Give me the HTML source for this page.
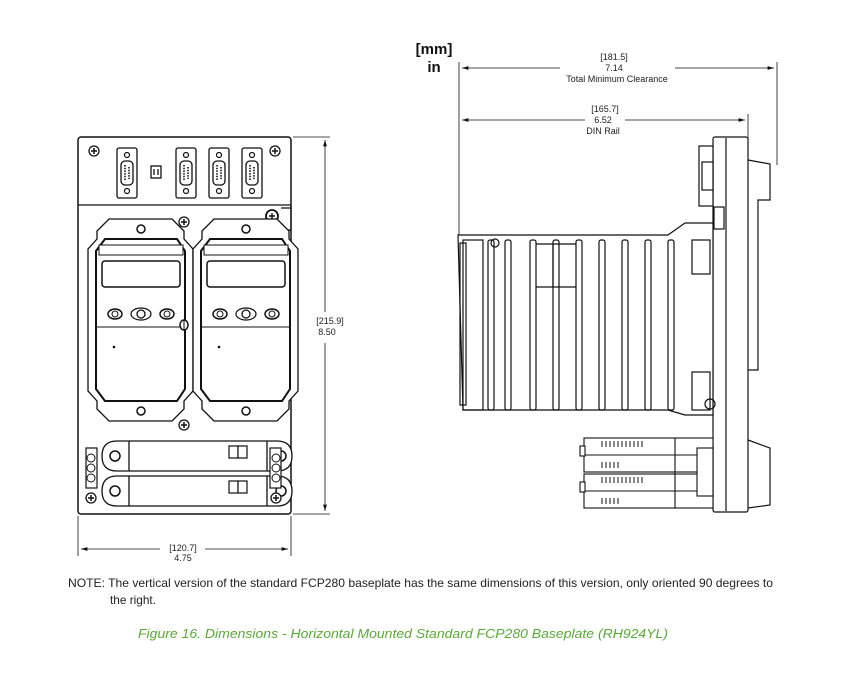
<!DOCTYPE html>
<html><head><meta charset="utf-8"><style>
html,body{margin:0;padding:0;background:#fff;}
svg{display:block;}
text{font-family:"Liberation Sans",sans-serif;}
</style></head><body>
<svg width="860" height="695" viewBox="0 0 860 695" xmlns="http://www.w3.org/2000/svg">
<defs>
<marker id="ar" viewBox="0 0 10 6" refX="10" refY="3" markerWidth="8" markerHeight="5" orient="auto-start-reverse"><path d="M0,0 L10,3 L0,6 z" fill="#111"/></marker>
<g id="screw"><circle r="5" fill="#fff" stroke="#111" stroke-width="1.3"/><path d="M-3,0h6M0,-3v6" stroke="#111" stroke-width="1.5"/></g>
<g id="db9"><rect x="-10" y="-25" width="20" height="50" rx="2" fill="#fff" stroke="#111" stroke-width="1.3"/><circle cy="-18" r="2.5" fill="#fff" stroke="#111" stroke-width="1.2"/><circle cy="18" r="2.5" fill="#fff" stroke="#111" stroke-width="1.2"/><rect x="-6" y="-12" width="12" height="24" rx="4" fill="#fff" stroke="#111" stroke-width="1.3"/><path d="M-2,-8v16M2,-6v12" stroke="#111" stroke-width="1.6" stroke-dasharray="1.5,1.2"/></g>
<g id="module">
<path d="M12,0 L75,0 L87,12 L87,20 L96,30 L96,172 L87,182 L87,190 L75,202 L12,202 L0,190 L0,182 L-9,172 L-9,30 L0,20 L0,12 Z" fill="#fff" stroke="#111" stroke-width="1.3"/>
<path d="M8,20 L80,20 L88,32 L88,170 L80,182 L8,182 L-1,170 L-1,32 Z" fill="#fff" stroke="#111" stroke-width="2"/>
<rect x="2" y="26" width="84" height="10" fill="#fff" stroke="#111" stroke-width="1"/>
<rect x="5" y="42" width="78" height="26" rx="3" fill="#fff" stroke="#111" stroke-width="1.5"/>
<ellipse cx="18" cy="95" rx="7" ry="5" fill="#fff" stroke="#111" stroke-width="1.5"/><circle cx="18" cy="95" r="3" fill="none" stroke="#111"/>
<ellipse cx="44" cy="95" rx="10" ry="6" fill="#fff" stroke="#111" stroke-width="1.2"/><circle cx="44" cy="95" r="4" fill="none" stroke="#111" stroke-width="1.3"/>
<ellipse cx="70" cy="95" rx="7" ry="5" fill="#fff" stroke="#111" stroke-width="1.5"/><circle cx="70" cy="95" r="3" fill="none" stroke="#111"/>
<line x1="-1" y1="108" x2="88" y2="108" stroke="#111" stroke-width="1"/>
<circle cx="17" cy="128" r="1.3" fill="#111"/>
<circle cx="44" cy="10" r="4" fill="#fff" stroke="#111" stroke-width="1.5"/>
<circle cx="44" cy="192" r="4" fill="#fff" stroke="#111" stroke-width="1.5"/>
</g>
<g id="term"><path d="M10,0 H170 Q185,0 185,15 Q185,30 170,30 H10 Q-5,30 -5,15 Q-5,0 10,0Z" fill="#fff" stroke="#111" stroke-width="1.3"/><line x1="22" y1="0" x2="22" y2="30" stroke="#111" stroke-width="1.3"/><line x1="160" y1="0" x2="160" y2="30" stroke="#111" stroke-width="1.3"/><circle cx="8" cy="15" r="5" fill="#fff" stroke="#111" stroke-width="1.5"/><circle cx="174" cy="15" r="5" fill="#fff" stroke="#111" stroke-width="1.5"/><rect x="122" y="5" width="9" height="12" fill="#fff" stroke="#111" stroke-width="1.2"/><rect x="131" y="5" width="9" height="12" fill="#fff" stroke="#111" stroke-width="1.2"/></g>
</defs>

<!-- FRONT VIEW -->
<rect x="78" y="137" width="213" height="377" rx="3" fill="#fff" stroke="#111" stroke-width="1.5"/>
<line x1="78" y1="205" x2="291" y2="205" stroke="#111" stroke-width="1.3"/>
<use href="#screw" x="94" y="151"/><use href="#screw" x="275" y="151"/>
<use href="#db9" x="127" y="173"/>
<rect x="151" y="166" width="10" height="12" fill="#fff" stroke="#111" stroke-width="1.3"/><path d="M154,169v6M158,169v6" stroke="#111" stroke-width="1.3"/>
<use href="#db9" x="186" y="173"/><use href="#db9" x="219" y="173"/><use href="#db9" x="252" y="173"/>
<circle cx="272" cy="216" r="6" fill="#fff" stroke="#111" stroke-width="1.8"/><path d="M269,216h6M272,213v6" stroke="#111" stroke-width="1.4"/>
<path d="M281,208h10v22h-10" fill="none" stroke="#111" stroke-width="1.2"/>
<use href="#screw" x="184" y="222"/><use href="#screw" x="184" y="425"/>
<use href="#module" x="97" y="219"/>
<use href="#module" x="202" y="219"/>
<ellipse cx="184" cy="325" rx="4" ry="5" fill="#fff" stroke="#111" stroke-width="1.5"/><line x1="184" y1="320" x2="184" y2="330" stroke="#111"/>
<use href="#term" x="107" y="441"/><use href="#term" x="107" y="476"/>
<rect x="86" y="448" width="11" height="40" fill="#fff" stroke="#111" stroke-width="1.2"/><circle cx="91" cy="458" r="4" fill="none" stroke="#111"/><circle cx="91" cy="468" r="4" fill="none" stroke="#111"/><circle cx="91" cy="478" r="4" fill="none" stroke="#111"/>
<rect x="270" y="448" width="11" height="40" fill="#fff" stroke="#111" stroke-width="1.2"/><circle cx="276" cy="458" r="4" fill="none" stroke="#111"/><circle cx="276" cy="468" r="4" fill="none" stroke="#111"/><circle cx="276" cy="478" r="4" fill="none" stroke="#111"/>
<use href="#screw" x="91" y="498"/><use href="#screw" x="276" y="498"/>

<!-- front dims -->
<g stroke="#111" stroke-width="0.8" fill="none">
<line x1="293" y1="137" x2="330" y2="137"/><line x1="293" y1="514" x2="330" y2="514"/>
<line x1="325" y1="140" x2="325" y2="312" marker-start="url(#ar)"/><line x1="325" y1="343" x2="325" y2="511" marker-end="url(#ar)"/>
<line x1="78" y1="516" x2="78" y2="556"/><line x1="291" y1="516" x2="291" y2="556"/>
<line x1="81" y1="549" x2="160" y2="549" marker-start="url(#ar)"/><line x1="205" y1="549" x2="288" y2="549" marker-end="url(#ar)"/>
</g>
<text x="330" y="324" font-size="9" text-anchor="middle" fill="#222">[215.9]</text>
<text x="327" y="335" font-size="9" text-anchor="middle" fill="#222">8.50</text>
<text x="183" y="551" font-size="9" text-anchor="middle" fill="#222">[120.7]</text>
<text x="183" y="561" font-size="9" text-anchor="middle" fill="#222">4.75</text>

<!-- SIDE VIEW dims -->
<text x="434" y="54" font-size="15" font-weight="bold" text-anchor="middle" fill="#111">[mm]</text>
<text x="434" y="72" font-size="15" font-weight="bold" text-anchor="middle" fill="#111">in</text>
<g stroke="#111" stroke-width="0.8" fill="none">
<line x1="459" y1="62" x2="459" y2="240"/>
<line x1="777" y1="62" x2="777" y2="165"/>
<line x1="748" y1="114" x2="748" y2="140"/>
<line x1="462" y1="68" x2="560" y2="68" marker-start="url(#ar)"/><line x1="675" y1="68" x2="774" y2="68" marker-end="url(#ar)"/>
<line x1="462" y1="120" x2="585" y2="120" marker-start="url(#ar)"/><line x1="625" y1="120" x2="745" y2="120" marker-end="url(#ar)"/>
</g>
<text x="614" y="60" font-size="9" text-anchor="middle" fill="#222">[181.5]</text>
<text x="614" y="71" font-size="9" text-anchor="middle" fill="#222">7.14</text>
<text x="617" y="82" font-size="9" text-anchor="middle" fill="#222">Total Minimum Clearance</text>
<text x="605" y="112" font-size="9" text-anchor="middle" fill="#222">[165.7]</text>
<text x="603" y="123" font-size="9" text-anchor="middle" fill="#222">6.52</text>
<text x="603" y="134" font-size="9" text-anchor="middle" fill="#222">DIN Rail</text>

<!-- side body -->
<g stroke="#111" stroke-width="1.2" fill="#fff">
<rect x="713" y="137" width="35" height="375" rx="2"/>
<line x1="726" y1="138" x2="726" y2="511"/>
<path d="M748,160 L770,164 L770,200 L758,200 L758,370 L748,370" fill="none"/>
<path d="M748,440 L770,448 L770,505 L748,508" fill="none"/>
<rect x="699" y="146" width="14" height="60"/>
<rect x="702" y="162" width="11" height="28"/>
<rect x="714" y="207" width="10" height="22"/>
<path d="M458,235 H668 L685,223 H713 V415 H685 L668,410 H463 Z"/>
<rect x="463" y="240" width="20" height="170" fill="none"/>
<rect x="460" y="243" width="6" height="162" fill="none"/>
</g>
<g stroke="#111" stroke-width="1.2" fill="none">
<rect x="488" y="240" width="6" height="170" rx="2"/>
<rect x="505" y="240" width="6" height="170" rx="2"/>
<rect x="530" y="240" width="6" height="170" rx="2"/>
<rect x="553" y="240" width="6" height="170" rx="2"/>
<rect x="576" y="240" width="6" height="170" rx="2"/>
<rect x="599" y="240" width="6" height="170" rx="2"/>
<rect x="622" y="240" width="6" height="170" rx="2"/>
<rect x="645" y="240" width="6" height="170" rx="2"/>
<rect x="668" y="240" width="6" height="170" rx="2"/>
<path d="M536,244 H576 M536,287 H576 M553,244 V287"/>
<rect x="692" y="240" width="18" height="34"/>
<rect x="692" y="372" width="18" height="38"/>
<circle cx="495" cy="243" r="4"/><circle cx="710" cy="404" r="5"/>
</g>
<!-- bottom connectors -->
<g stroke="#111" stroke-width="1.1" fill="#fff">
<rect x="584" y="438" width="129" height="34"/>
<rect x="584" y="474" width="129" height="34"/>
<line x1="584" y1="455" x2="713" y2="455"/><line x1="584" y1="491" x2="713" y2="491"/>
<line x1="675" y1="438" x2="675" y2="508"/>
<rect x="697" y="448" width="16" height="48"/>
<rect x="580" y="446" width="5" height="10"/><rect x="580" y="482" width="5" height="10"/>
</g>
<g stroke="#111" stroke-width="1" fill="none">
<path d="M602,441 v6 M606,441 v6 M610,441 v6 M614,441 v6 M618,441 v6 M622,441 v6 M626,441 v6 M630,441 v6 M634,441 v6 M638,441 v6 M642,441 v6"/>
<path d="M602,477 v6 M606,477 v6 M610,477 v6 M614,477 v6 M618,477 v6 M622,477 v6 M626,477 v6 M630,477 v6 M634,477 v6 M638,477 v6 M642,477 v6"/>
<path d="M602,462 v6 M606,462 v6 M610,462 v6 M614,462 v6 M618,462 v6"/>
<path d="M602,498 v6 M606,498 v6 M610,498 v6 M614,498 v6 M618,498 v6"/>
</g>

<!-- note + caption -->
<text x="68" y="587" font-size="12" fill="#222" textLength="705" lengthAdjust="spacingAndGlyphs">NOTE: The vertical version of the standard FCP280 baseplate has the same dimensions of this version, only oriented 90 degrees to</text>
<text x="110" y="604" font-size="12" fill="#222" textLength="46" lengthAdjust="spacingAndGlyphs">the right.</text>
<text x="138" y="638" font-size="13" font-style="italic" fill="#5aa83a" textLength="530" lengthAdjust="spacingAndGlyphs">Figure 16. Dimensions - Horizontal Mounted Standard FCP280 Baseplate (RH924YL)</text>
</svg>
</body></html>
